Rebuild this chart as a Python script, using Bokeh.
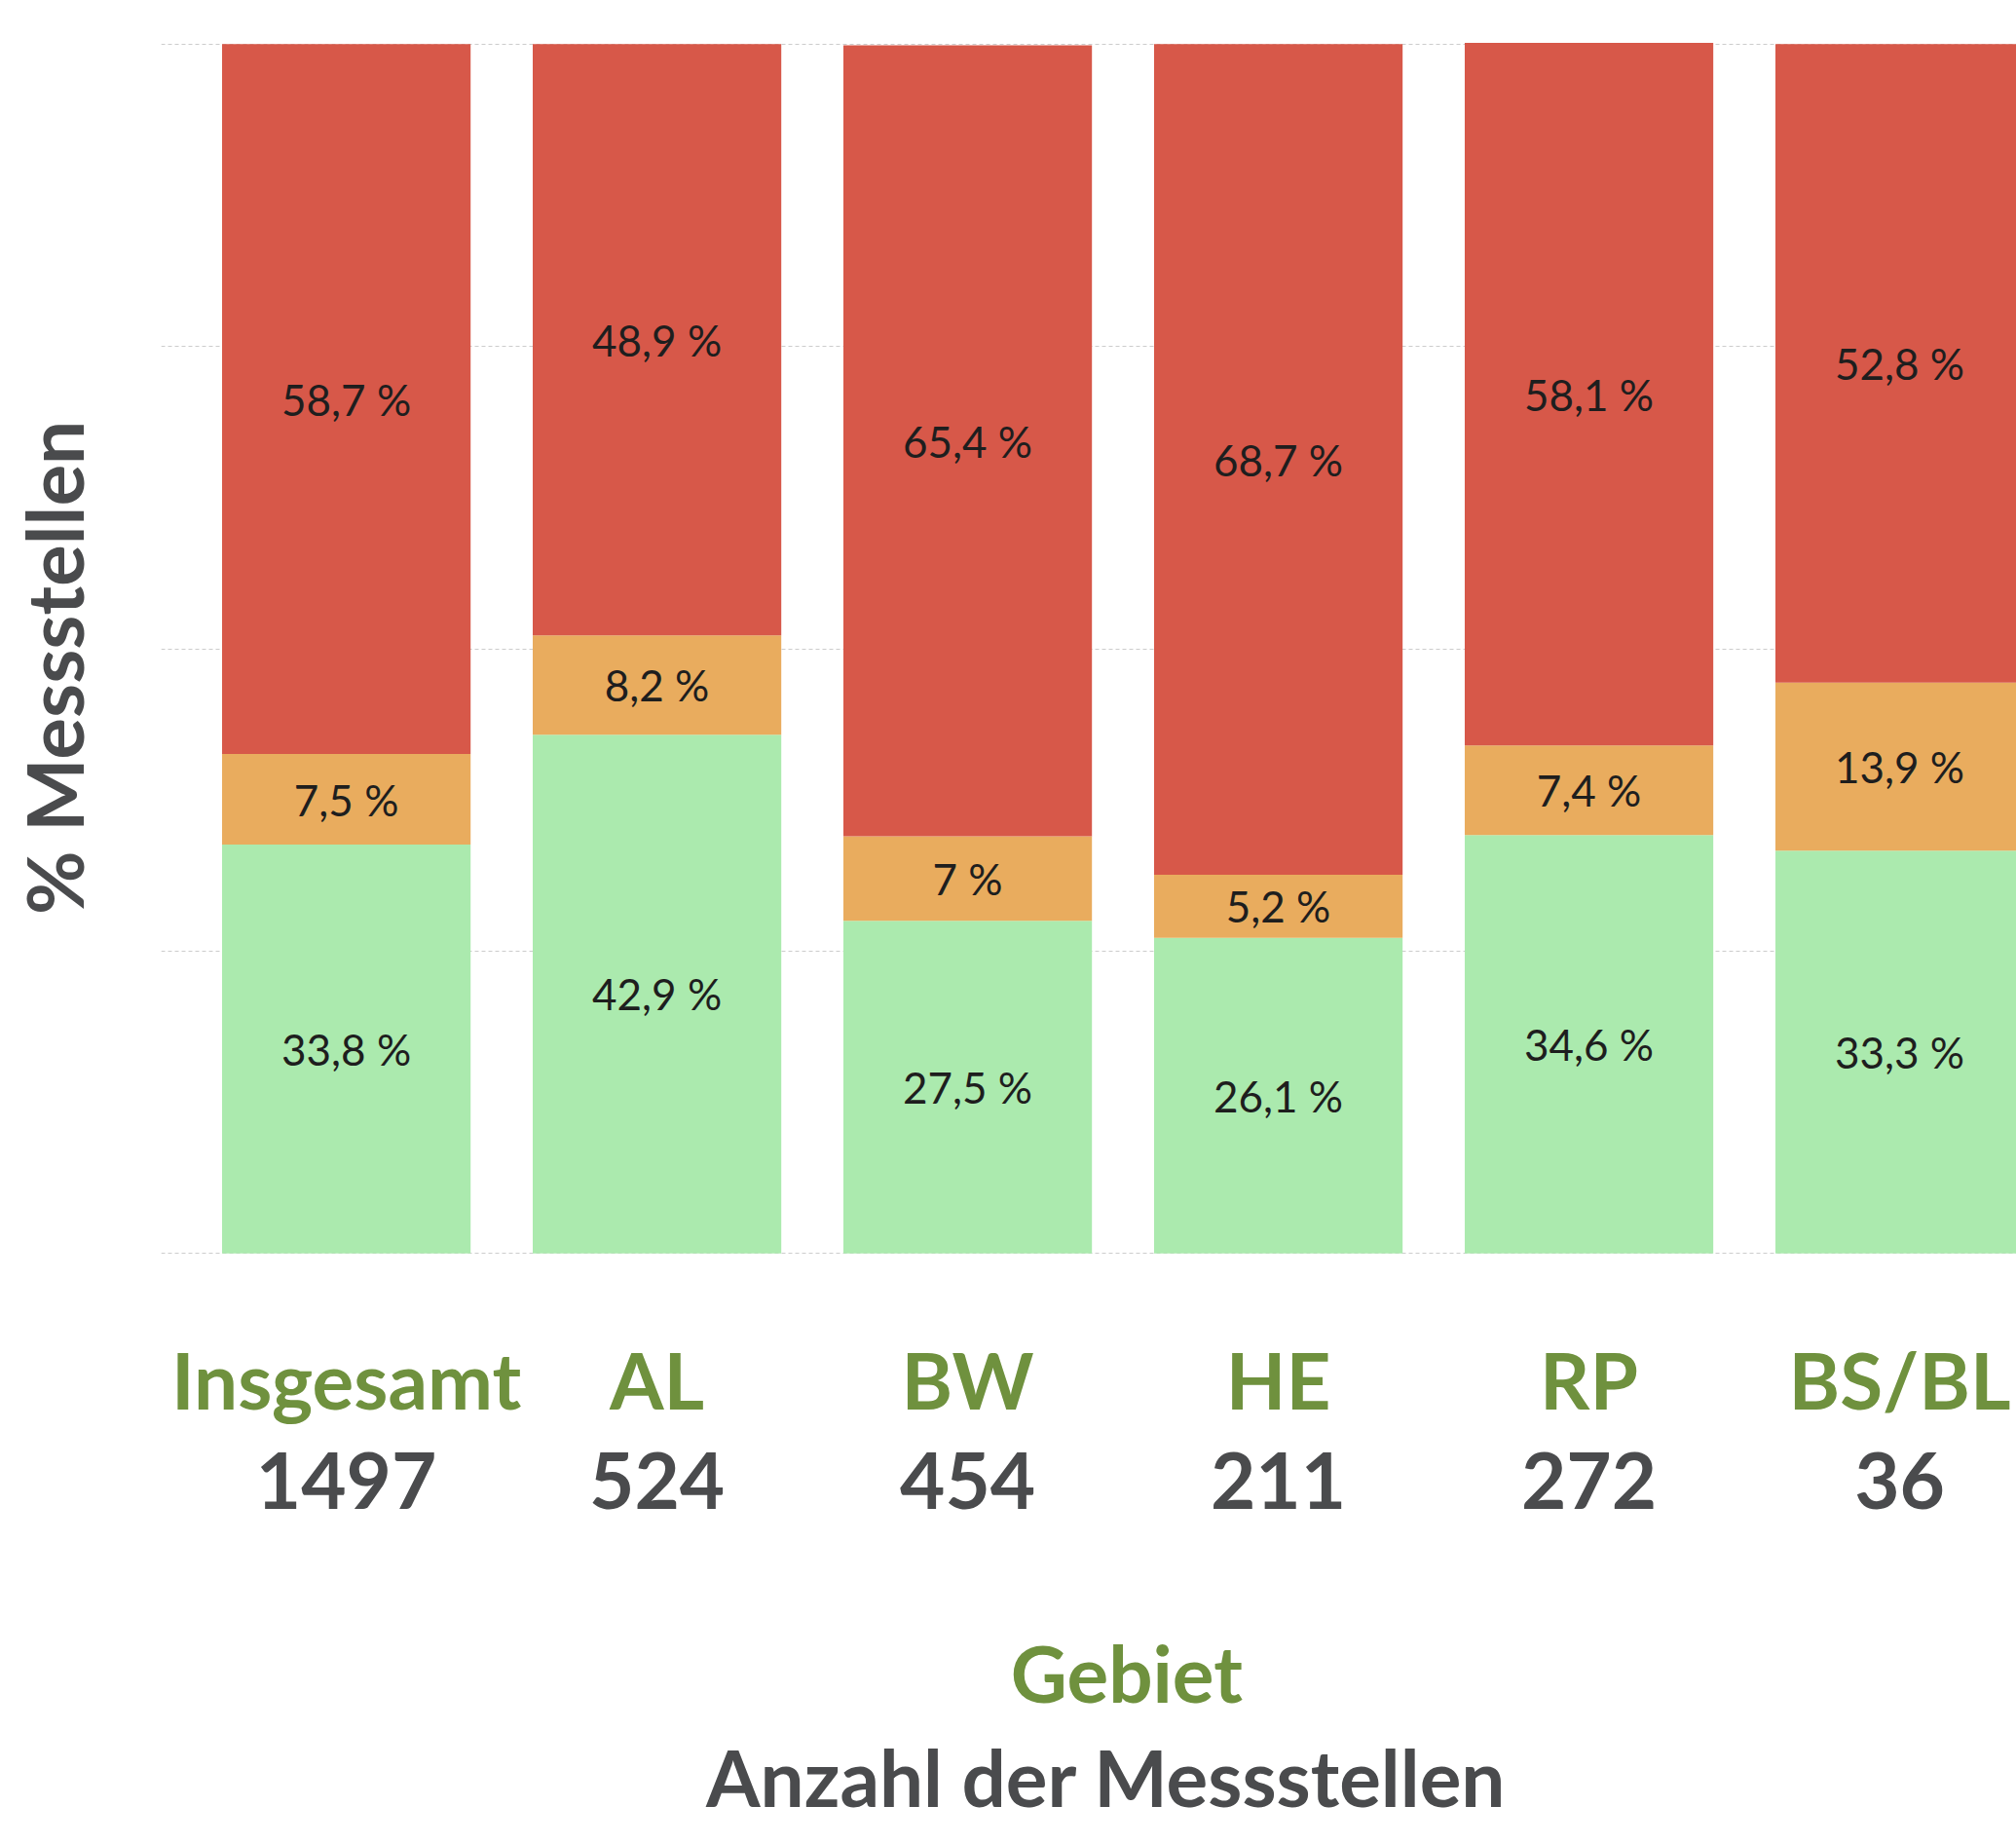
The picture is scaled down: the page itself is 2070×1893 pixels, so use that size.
from bokeh.plotting import figure
from bokeh.models import ColumnDataSource, Range1d, FixedTicker, LinearAxis
from bokeh.core.properties import value
from bokeh.embed import file_html
from bokeh.resources import INLINE

categories = ["Insgesamt", "AL", "BW", "HE", "RP", "BS/BL"]
counts = [1497, 524, 454, 211, 272, 36]
green_vals = [33.8, 42.9, 27.5, 26.1, 34.6, 33.3]
orange_vals = [7.5, 8.2, 7.0, 5.2, 7.4, 13.9]
red_vals = [58.7, 48.9, 65.4, 68.7, 58.1, 52.8]
grid_ticks = [0, 25, 50, 75, 100]

C_RED = "#D75849"
C_ORANGE = "#E9AC5E"
C_GREEN = "#ABEAAE"
C_TXT_GREEN = "#6F913E"
C_TXT_GRAY = "#4A4B4D"
FONT = "Lato"
NB = "\u00a0"  # non-breaking space used to nudge centred axis titles

xs = list(range(len(categories)))
src = ColumnDataSource(dict(x=xs, g=green_vals, o=orange_vals, r=red_vals))

p = figure(width=2070, height=1874, x_range=Range1d(-0.596, 5.376), y_range=Range1d(-0.15, 100.15),
           output_backend="svg", toolbar_location=None,
           min_border_left=165, min_border_right=0, min_border_top=43, min_border_bottom=0)
p.outline_line_color = None
p.background_fill_color = "white"

p.vbar_stack(["g", "o", "r"], x="x", width=0.8, fill_color=[C_GREEN, C_ORANGE, C_RED],
             line_color=None, source=src)

def fmt(v):
    s = f"{v:g}".replace(".", ",")
    return s + " %"

lx, ly, lt = [], [], []
for i in xs:
    b = 0.0
    for v in (green_vals[i], orange_vals[i], red_vals[i]):
        lx.append(i)
        ly.append(b + v / 2)
        lt.append(fmt(v))
        b += v
p.text(x="x", y="y", text="t", source=ColumnDataSource(dict(x=lx, y=ly, t=lt)),
       text_align="center", text_baseline="middle", text_font=value(FONT),
       text_font_size="44px", text_color="#1E1E1E")

# y axis (label only) and grid
p.yaxis.ticker = FixedTicker(ticks=[])
p.yaxis.major_tick_line_color = None
p.yaxis.minor_tick_line_color = None
p.yaxis.axis_line_color = None
p.yaxis.major_label_standoff = 0
p.yaxis.major_tick_out = 0
p.yaxis.axis_label = "% Messstellen" + NB * 2
p.yaxis.axis_label_text_font = FONT
p.yaxis.axis_label_text_font_style = "bold"
p.yaxis.axis_label_text_font_size = "80px"
p.yaxis.axis_label_text_color = C_TXT_GRAY
p.yaxis.axis_label_standoff = 63

p.ygrid.ticker = FixedTicker(ticks=grid_ticks)
p.ygrid.grid_line_color = "#CCCCCC"
p.ygrid.grid_line_dash = "4 3"
p.ygrid.grid_line_width = 1
p.xgrid.grid_line_color = None

def style_x(ax, overrides, color, standoff):
    ax.ticker = FixedTicker(ticks=xs if overrides else [])
    if overrides:
        ax.major_label_overrides = overrides
    ax.major_label_text_font = FONT
    ax.major_label_text_font_style = "bold"
    ax.major_label_text_font_size = "80px"
    ax.major_label_text_color = color
    ax.major_tick_line_color = None
    ax.minor_tick_line_color = None
    ax.axis_line_color = None
    ax.major_tick_out = 0
    ax.major_tick_in = 0
    ax.major_label_standoff = standoff
    ax.axis_label_text_font = FONT
    ax.axis_label_text_font_style = "bold"
    ax.axis_label_text_font_size = "80px"

ax1 = p.xaxis[0]
style_x(ax1, {i: c for i, c in zip(xs, categories)}, C_TXT_GREEN, 79)

ax2 = LinearAxis()
style_x(ax2, {i: str(n) for i, n in zip(xs, counts)}, C_TXT_GRAY, 24)
ax2.axis_label = NB * 4 + "Gebiet"
ax2.axis_label_text_color = C_TXT_GREEN
ax2.axis_label_standoff = 117
p.add_layout(ax2, "below")

ax3 = LinearAxis()
style_x(ax3, None, C_TXT_GRAY, 0)
ax3.axis_label = NB * 2 + "Anzahl der Messstellen"
ax3.axis_label_text_color = C_TXT_GRAY
ax3.axis_label_standoff = 8
p.add_layout(ax3, "below")

open("out.html", "w").write(file_html(p, INLINE))
